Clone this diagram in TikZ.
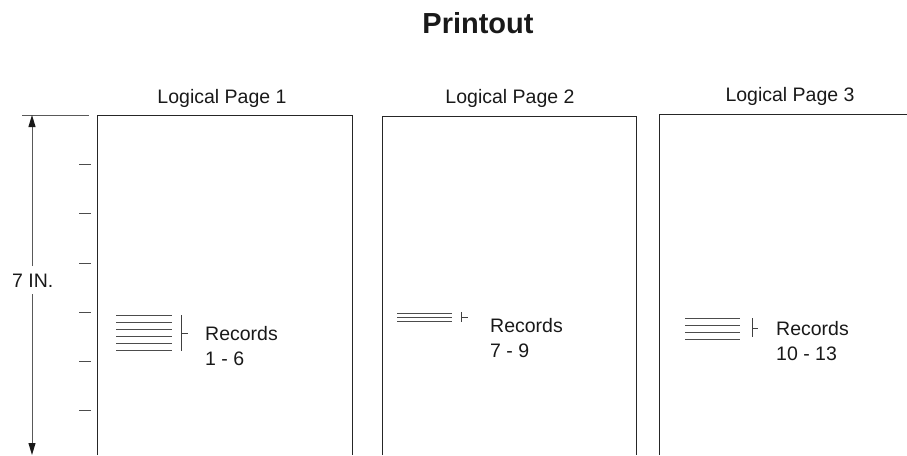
\documentclass[tikz,border=0pt]{standalone}
\usepackage{fontspec}
\setmainfont{Liberation Sans}
\usetikzlibrary{arrows.meta}
\tikzset{
  pageframe/.style={draw=black!85, line width=1pt},
  recline/.style={draw=black!70, line width=1pt},
  bracket/.style={draw=black!75, line width=1pt},
  tickmark/.style={draw=black!70, line width=1pt},
  dimline/.style={draw=black!65, line width=1pt},
  dimtip/.style={-{Triangle[length=12pt, width=7pt, color=black!90, fill=black!90]}},
  lbl/.style={inner sep=0pt, font=\fontsize{19.5}{24}\selectfont, text=black!90},
  reclbl/.style={inner sep=0pt, font=\fontsize{19.5}{24}\selectfont, text=black!90, align=left, anchor=base west},
}
\begin{document}
\begin{tikzpicture}[x=1pt, y=-1pt]
\useasboundingbox (0,0) rectangle (907,455);

% title
\node[inner sep=0pt, anchor=base, font=\fontsize{29}{34}\selectfont\bfseries, text=black!90] (title) at (478,33) {Printout};

% page headings
\node[lbl, anchor=base] (h1) at (222,103) {Logical Page 1};
\node[lbl, anchor=base] (h2) at (510,103) {Logical Page 2};
\node[lbl, anchor=base] (h3) at (790,101) {Logical Page 3};

% page frames, open at the bottom
\coordinate (p1bl) at (97,455);  \coordinate (p1tl) at (97,115);
\coordinate (p1tr) at (352,115); \coordinate (p1br) at (352,455);
\coordinate (p2bl) at (382,455); \coordinate (p2tl) at (382,116);
\coordinate (p2tr) at (636,116); \coordinate (p2br) at (636,455);
\coordinate (p3bl) at (659,455); \coordinate (p3tl) at (659,114);
\coordinate (p3tr) at (907,114);
\draw[pageframe] (p1bl) -- (p1tl) -- (p1tr) -- (p1br);
\draw[pageframe] (p2bl) -- (p2tl) -- (p2tr) -- (p2br);
\draw[pageframe] (p3bl) -- (p3tl) -- (p3tr);

% vertical dimension, 7 inches
\coordinate (dtopl) at (22,115);
\coordinate (dtopr) at (89,115);
\coordinate (dtop) at (32,115);
\coordinate (dbot) at (32,455);
\draw[dimline] (dtopl) -- (dtopr);
\node[lbl, anchor=base west] (dim) at (12,287) {7 IN.};
\draw[dimline, dimtip] (32,266) -- (dtop);
\draw[dimline, dimtip] (32,294) -- (dbot);

% inch tick marks
\foreach \y [count=\i] in {164,213,263,312,361,410}
  \draw[tickmark] (79,\y) coordinate (tk\i a) -- (91,\y) coordinate (tk\i b);

% page 1: records 1 - 6
\foreach \y [count=\i] in {315,322,329,336,343,350}
  \draw[recline] (116,\y) coordinate (r1s\i) -- (172,\y) coordinate (r1e\i);
\draw[bracket] (181,315) coordinate (b1t) -- (181,351) coordinate (b1b);
\draw[bracket] (181,333) coordinate (b1m) -- (188,333) coordinate (b1x);
\node[reclbl] (rec1) at (205,365) {Records\\[1pt]1 - 6};

% page 2: records 7 - 9
\foreach \y [count=\i] in {313,317,321}
  \draw[recline] (397,\y) coordinate (r2s\i) -- (452,\y) coordinate (r2e\i);
\draw[bracket] (461,312) coordinate (b2t) -- (461,322) coordinate (b2b);
\draw[bracket] (461,317) coordinate (b2m) -- (468,317) coordinate (b2x);
\node[reclbl] (rec2) at (490,357) {Records\\[1pt]7 - 9};

% page 3: records 10 - 13
\foreach \y [count=\i] in {318,325,332,339}
  \draw[recline] (685,\y) coordinate (r3s\i) -- (740,\y) coordinate (r3e\i);
\draw[bracket] (752,318) coordinate (b3t) -- (752,337) coordinate (b3b);
\draw[bracket] (752,328) coordinate (b3m) -- (758,328) coordinate (b3x);
\node[reclbl] (rec3) at (776,360) {Records\\[1pt]10 - 13};
\end{tikzpicture}
\end{document}
